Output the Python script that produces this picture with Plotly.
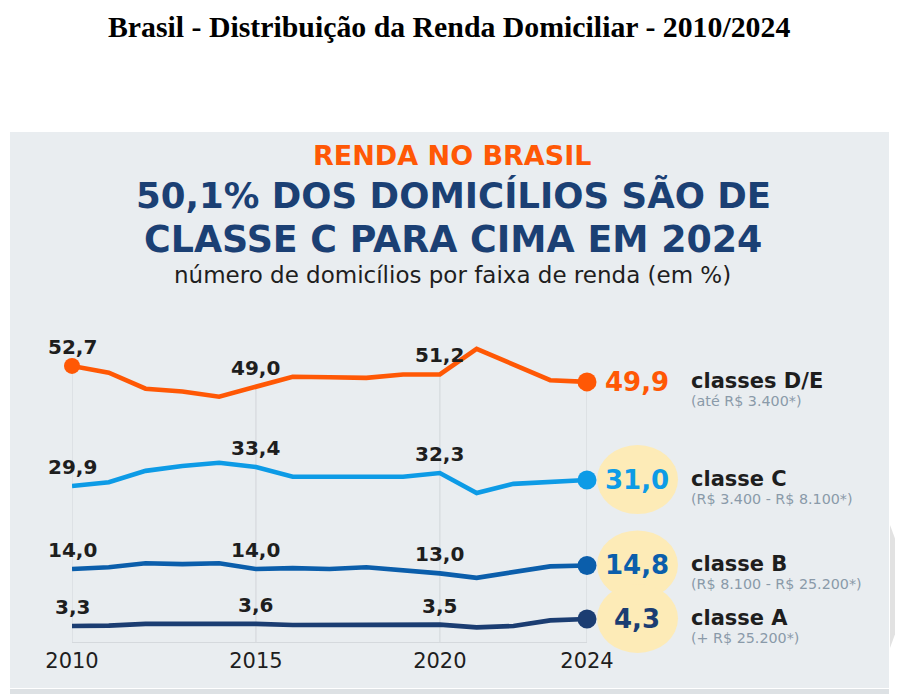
import plotly.graph_objects as go

# ---------------- data ----------------
years = list(range(2010, 2025))
classe_de = [52.7, 51.5, 48.7, 48.2, 47.3, 49.0, 50.8, 50.7, 50.6, 51.2, 51.2, 55.7, 52.9, 50.2, 49.9]
classe_c = [29.9, 30.6, 32.7, 33.6, 34.2, 33.4, 31.6, 31.6, 31.6, 31.6, 32.3, 28.6, 30.3, 30.6, 31.0]
classe_b = [14.0, 14.4, 15.3, 15.1, 15.3, 14.0, 14.2, 14.0, 14.4, 13.7, 13.0, 12.0, 13.2, 14.6, 14.8]
classe_a = [3.3, 3.35, 3.6, 3.6, 3.65, 3.6, 3.45, 3.45, 3.45, 3.4, 3.5, 3.1, 3.3, 4.1, 4.3]
tick_years = [2010, 2015, 2020, 2024]
label_years = [2010, 2015, 2020]
class_names = ["classes D/E", "classe C", "classe B", "classe A"]
class_ranges = ["(até R$ 3.400*)", "(R$ 3.400 - R$ 8.100*)", "(R$ 8.100 - R$ 25.200*)", "(+ R$ 25.200*)"]

W, H = 903, 694
OFF = 8  # page body margin
def PX(p):
    return (p - OFF) / W
def PY(p):
    return 1 - (p - OFF) / H

series = [classe_de, classe_c, classe_b, classe_a]
colors = ["#ff5805", "#0d9be6", "#0b5eab", "#1b3d72"]
axes = ["y", "y2", "y3", "y4"]
# pixel bands (top, bottom) and value ranges for each series
bands = [(330, 642, 4.28, 59.0), (445, 505, 26.38, 37.49), (550, 590, 9.23, 18.32), (605, 640, 1.3, 6.3)]
FONT = "DejaVu Sans"

def val_to_px(k, v):
    top, bot, lo, hi = bands[k]
    return bot - (v - lo) / (hi - lo) * (bot - top)

fig = go.Figure()

# vertical grid lines from the top series down to the baseline
gx, gy = [], []
for ty in tick_years:
    i = years.index(ty)
    gx += [ty, ty, None]
    gy += [classe_de[i], bands[0][2], None]
fig.add_trace(go.Scatter(x=gx, y=gy, mode="lines", yaxis="y",
                         line=dict(color="#d5d9dd", width=1.2),
                         hoverinfo="skip", showlegend=False))

annotations = []
ellipses = []
x_end_px = 587

for k, (vals, col, ax) in enumerate(zip(series, colors, axes)):
    fig.add_trace(go.Scatter(x=years, y=vals, mode="lines", yaxis=ax,
                             line=dict(color=col, width=4.6),
                             showlegend=False, cliponaxis=False))
    fig.add_trace(go.Scatter(x=[years[-1]], y=[vals[-1]], mode="markers", yaxis=ax,
                             marker=dict(color=col, size=19),
                             showlegend=False, cliponaxis=False))
    for ly in label_years:
        i = years.index(ly)
        annotations.append(dict(x=ly, y=vals[i], xref="x", yref=ax,
                                text="<b>" + f"{vals[i]:.1f}".replace(".", ",") + "</b>",
                                showarrow=False, yanchor="middle", yshift=19,
                                font=dict(family=FONT, size=20, color="#1e1e1e")))
    if k > 0:
        cy = val_to_px(k, vals[-1])
        ellipses.append(dict(type="circle", xref="paper", yref="paper",
                             x0=PX(x_end_px + 10), x1=PX(x_end_px + 91),
                             y0=PY(cy + 34), y1=PY(cy - 35),
                             fillcolor="#fdebb7", line=dict(width=0), layer="below"))
    annotations.append(dict(x=years[-1], y=vals[-1], xref="x", yref=ax,
                            text="<b>" + f"{vals[-1]:.1f}".replace(".", ",") + "</b>",
                            showarrow=False, xanchor="center", yanchor="middle", xshift=50,
                            font=dict(family=FONT, size=26, color=col)))
    annotations.append(dict(x=years[-1], y=vals[-1], xref="x", yref=ax,
                            text="<b>" + class_names[k] + "</b>",
                            showarrow=False, xanchor="left", yanchor="middle", xshift=102, yshift=1,
                            font=dict(family=FONT, size=21, color="#1e1e1e")))
    annotations.append(dict(x=years[-1], y=vals[-1], xref="x", yref=ax,
                            text=class_ranges[k],
                            showarrow=False, xanchor="left", yanchor="middle", xshift=102, yshift=-19,
                            font=dict(family=FONT, size=14.3, color="#8a9aa9")))

fig.add_trace(go.Scatter(x=[years[0]], y=[classe_de[0]], mode="markers", yaxis="y",
                         marker=dict(color=colors[0], size=16),
                         showlegend=False, cliponaxis=False))

annotations += [
    dict(x=PX(449), y=PY(26), xref="paper", yref="paper", showarrow=False, yanchor="middle",
         text="<b>Brasil - Distribuição da Renda Domiciliar - 2010/2024</b>",
         font=dict(family="Liberation Serif", size=29.8, color="#000000")),
    dict(x=PX(452), y=PY(155), xref="paper", yref="paper", showarrow=False, yanchor="middle",
         text="<b>RENDA NO BRASIL</b>",
         font=dict(family=FONT, size=27, color="#ff5805")),
    dict(x=PX(453.5), y=PY(196), xref="paper", yref="paper", showarrow=False, yanchor="middle",
         text="<b>50,1% DOS DOMICÍLIOS SÃO DE</b>",
         font=dict(family=FONT, size=35.6, color="#1b4074")),
    dict(x=PX(452.5), y=PY(239.5), xref="paper", yref="paper", showarrow=False, yanchor="middle",
         text="<b>CLASSE C PARA CIMA EM 2024</b>",
         font=dict(family=FONT, size=36.4, color="#1b4074")),
    dict(x=PX(452), y=PY(275), xref="paper", yref="paper", showarrow=False, yanchor="middle",
         text="número de domicílios por faixa de renda (em %)",
         font=dict(family=FONT, size=23, color="#1e1e1e")),
]

shapes = [
    dict(type="rect", xref="paper", yref="paper", x0=PX(10), x1=PX(889), y0=PY(688), y1=PY(132),
         fillcolor="#e9edf0", line=dict(width=0), layer="below"),
    dict(type="rect", xref="paper", yref="paper", x0=PX(10), x1=PX(889), y0=PY(696), y1=PY(689),
         fillcolor="#dde1e4", line=dict(width=0), layer="below"),
    dict(type="path", xref="paper", yref="paper",
         path=f"M {PX(890)} {PY(525)} L {PX(903)} {PY(560)} L {PX(903)} {PY(612)} L {PX(890)} {PY(648)} Z",
         fillcolor="#e2e2e2", line=dict(width=0), layer="below"),
] + ellipses

axis_common = dict(showgrid=False, zeroline=False, showticklabels=False, fixedrange=True,
                   automargin=False, showline=False)
yaxes = {}
for k, ax in enumerate(axes):
    top, bot, lo, hi = bands[k]
    name = "yaxis" if k == 0 else f"yaxis{k + 1}"
    yaxes[name] = dict(domain=[PY(bot), PY(top)], range=[lo, hi], anchor="x", **axis_common)

fig.update_layout(
    template="none",
    width=W, height=H,
    margin=dict(l=0, r=0, t=0, b=0, pad=0, autoexpand=False),
    paper_bgcolor="#ffffff", plot_bgcolor="rgba(0,0,0,0)",
    showlegend=False,
    xaxis=dict(domain=[PX(72), PX(587)], range=[2010, 2024], anchor="y",
               tickvals=tick_years, ticktext=[str(t) for t in tick_years], automargin=False,
               showgrid=False, zeroline=False, showline=True, linecolor="#d5d9dd", linewidth=1.2,
               ticks="", tickfont=dict(family=FONT, size=21, color="#1e1e1e"), fixedrange=True),
    annotations=annotations,
    shapes=shapes,
    **yaxes,
)

fig.write_html("out.html")
